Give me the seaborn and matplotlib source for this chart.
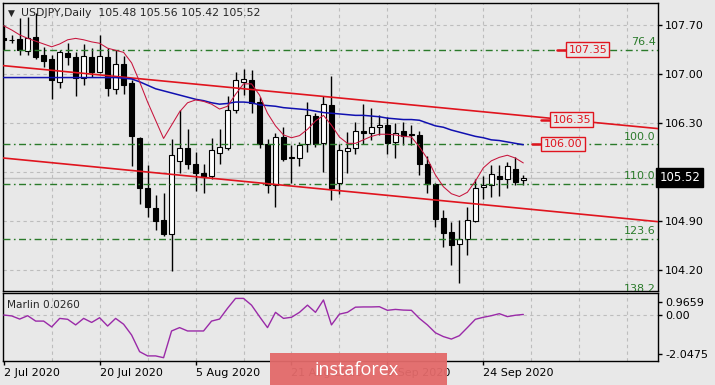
import numpy as np
import pandas as pd
import matplotlib
matplotlib.use("Agg")
import matplotlib.pyplot as plt
import matplotlib.transforms as mtransforms
from matplotlib.patches import Rectangle
import seaborn as sns

# daily bars, 2 Jul 2020 .. 1 Oct 2020
dates = pd.bdate_range("2020-07-02", periods=66)

opens = [107.52, 107.49, 107.50, 107.33, 107.53, 107.27, 107.21, 106.89, 107.30, 107.24,
         106.94, 107.24, 107.03, 107.24, 106.78, 107.14, 106.87, 106.08, 105.37, 105.08,
         104.91, 104.71, 105.76, 105.94, 105.72, 105.58, 105.54, 105.87, 105.94, 106.49,
         106.89, 106.91, 106.60, 106.00, 105.42, 106.10, 105.82, 105.80, 106.00, 106.40,
         106.02, 106.56, 105.45, 105.90, 105.95, 106.19, 106.16, 106.24, 106.27, 106.03,
         106.19, 106.15, 106.13, 105.72, 105.43, 104.95, 104.74, 104.57, 104.65, 104.90,
         105.38, 105.41, 105.54, 105.50, 105.65, 105.48]
highs = [107.70, 107.56, 107.80, 107.82, 107.87, 107.39, 107.27, 107.34, 107.44, 107.32,
         107.43, 107.37, 107.56, 107.37, 107.35, 107.26, 106.91, 106.10, 105.70, 105.27,
         105.30, 106.07, 106.48, 106.22, 105.89, 105.72, 106.08, 106.21, 106.69, 107.03,
         107.07, 107.06, 106.67, 106.07, 106.16, 106.24, 105.99, 106.03, 106.60, 106.45,
         106.69, 106.97, 106.00, 106.17, 106.32, 106.57, 106.52, 106.41, 106.39, 106.30,
         106.31, 106.27, 106.19, 105.83, 105.45, 105.06, 104.89, 104.91, 105.10, 105.50,
         105.54, 105.70, 105.70, 105.74, 105.82, 105.56]
lows = [107.35, 107.44, 107.27, 107.27, 107.21, 107.10, 106.65, 106.80, 107.13, 106.68,
        106.84, 106.96, 107.01, 106.69, 106.72, 106.71, 105.69, 105.14, 104.96, 104.77,
        104.69, 104.19, 105.59, 105.65, 105.33, 105.30, 105.50, 105.72, 105.91, 106.45,
        106.70, 106.45, 105.95, 105.30, 105.10, 105.76, 105.44, 105.69, 105.88, 105.96,
        105.60, 105.20, 105.29, 105.59, 105.86, 106.00, 106.06, 106.13, 105.86, 105.80,
        105.99, 105.99, 105.56, 105.30, 104.81, 104.53, 104.27, 104.01, 104.41, 104.88,
        105.21, 105.25, 105.26, 105.37, 105.41, 105.42]
closes = [107.49, 107.48, 107.34, 107.51, 107.24, 107.19, 106.92, 107.31, 107.25, 106.94,
          107.26, 107.03, 107.26, 106.80, 107.15, 106.84, 106.11, 105.37, 105.10, 104.90,
          104.71, 105.85, 105.95, 105.71, 105.59, 105.53, 105.92, 105.96, 106.49, 106.91,
          106.93, 106.59, 106.00, 105.41, 106.10, 105.79, 105.80, 105.99, 106.41, 106.00,
          106.57, 105.37, 105.91, 105.94, 106.19, 106.16, 106.24, 106.27, 106.02, 106.16,
          106.12, 106.13, 105.71, 105.43, 104.93, 104.73, 104.56, 104.64, 104.92, 105.37,
          105.41, 105.57, 105.50, 105.68, 105.46, 105.52]

ma_fast = [107.69, 107.63, 107.56, 107.51, 107.47, 107.43, 107.39, 107.43, 107.49, 107.51,
           107.49, 107.46, 107.44, 107.37, 107.34, 107.31, 107.16, 106.89, 106.60, 106.34,
           106.08, 106.27, 106.46, 106.59, 106.63, 106.61, 106.57, 106.50, 106.54, 106.71,
           106.86, 106.86, 106.70, 106.44, 106.26, 106.13, 106.09, 106.12, 106.21, 106.33,
           106.41, 106.27, 106.10, 106.01, 106.01, 106.06, 106.11, 106.14, 106.14, 106.13,
           106.11, 106.10, 105.96, 105.79, 105.56, 105.39, 105.29, 105.25, 105.31, 105.47,
           105.66, 105.76, 105.81, 105.84, 105.80, 105.73]
ma_slow = [106.95, 106.95, 106.95, 106.95, 106.95, 106.95, 106.95, 106.95, 106.95, 106.95,
           106.95, 106.95, 106.95, 106.95, 106.95, 106.94, 106.93, 106.89, 106.84, 106.79,
           106.76, 106.73, 106.70, 106.67, 106.64, 106.62, 106.59, 106.57, 106.58, 106.60,
           106.60, 106.59, 106.56, 106.55, 106.54, 106.52, 106.51, 106.50, 106.49, 106.47,
           106.45, 106.44, 106.43, 106.42, 106.41, 106.41, 106.40, 106.39, 106.37, 106.36,
           106.35, 106.35, 106.34, 106.30, 106.26, 106.24, 106.20, 106.17, 106.14, 106.11,
           106.09, 106.06, 106.05, 106.03, 106.01, 105.99]
marlin = [0.00, -0.04, -0.18, -0.03, -0.27, -0.27, -0.53, -0.15, -0.19, -0.44,
          -0.15, -0.33, -0.12, -0.49, -0.15, -0.41, -0.89, -1.63, -1.82, -1.82,
          -1.90, -0.71, -0.56, -0.71, -0.71, -0.71, -0.27, -0.18, 0.30, 0.74,
          0.74, 0.44, -0.07, -0.56, 0.12, -0.15, -0.10, 0.12, 0.44, 0.12,
          0.67, -0.44, 0.04, 0.12, 0.35, 0.36, 0.36, 0.37, 0.21, 0.25,
          0.22, 0.21, -0.15, -0.44, -0.79, -0.96, -1.07, -0.92, -0.56, -0.19,
          -0.10, -0.03, 0.06, -0.07, -0.01, 0.026]

fibo_levels = [107.35, 106.00, 105.43, 104.65, 103.82]
fibo_labels = ["76.4", "100.0", "110.0", "123.6", "138.2"]
chan_bars = [0, 81]
chan_upper = [107.12, 106.23]
chan_lower = [105.80, 104.90]
mark_prices = [107.35, 106.35, 106.00]
mark_bars = [70.5, 68.5, 67.4]
price_ticks = [107.70, 107.00, 106.30, 105.60, 104.90, 104.20]
osc_ticks = [0.578, 0.0, -1.733]
osc_labels = ["0.9659", "0.00", "-2.0475"]
last_price = 105.52
header = "USDJPY,Daily  105.48 105.56 105.42 105.52"

bg = "#e8e8e8"
grid_c = "#bdbdbd"
green = "#2a7a2a"
red = "#e0141e"

sns.set_theme(style="ticks")
plt.rcParams["font.family"] = ["DejaVu Sans"]
plt.rcParams["font.size"] = 8

df = pd.DataFrame({"date": dates, "open": opens, "high": highs, "low": lows,
                   "close": closes, "fast": ma_fast, "slow": ma_slow, "marlin": marlin})
df["bar"] = np.arange(len(df))

fig = plt.figure(figsize=(7.15, 3.85), dpi=100, facecolor=bg)
ax = fig.add_axes([0.0035, 0.2442, 0.9168, 0.7488], facecolor=bg)
ax2 = fig.add_axes([0.0035, 0.0623, 0.9168, 0.1758], facecolor=bg)

xmin, xmax = -0.15, 81.85
grid_bars = np.arange(6, 80, 6)

# grid
for g in grid_bars:
    ax.axvline(g, color=grid_c, lw=0.8, ls=(0, (3, 3)), zorder=0)
    ax2.axvline(g, color=grid_c, lw=0.8, ls=(0, (3, 3)), zorder=0)
for p in price_ticks:
    ax.axhline(p, color=grid_c, lw=0.8, ls=(0, (3, 3)), zorder=0)
ax2.axhline(0, color=grid_c, lw=0.8, ls=(0, (3, 3)), zorder=0)

# bid line
ax.axhline(last_price, color="#c2c2c2", lw=1, zorder=1)

# candles
up = df["close"] >= df["open"]
ax.vlines(df["bar"], df["low"], df["high"], color="black", lw=1, zorder=3)
body_lo = np.minimum(df["open"], df["close"])
body_h = np.maximum((df["close"] - df["open"]).abs(), 0.012)
ax.bar(df["bar"], body_h, bottom=body_lo, width=0.62,
       color=np.where(up, "white", "black"), edgecolor="black", lw=0.8, zorder=4)

# fibo levels
for lvl, lab in zip(fibo_levels, fibo_labels):
    ax.axhline(lvl, color=green, lw=1, ls=(0, (5, 2.5, 1.2, 2.5)), zorder=5)
    ax.text(81.55, lvl + 0.035, lab, color=green, ha="right", va="bottom",
            fontsize=8, zorder=6, clip_on=True)

# channel
ax.axline((chan_bars[0], chan_upper[0]), (chan_bars[1], chan_upper[1]), color=red, lw=1.2, zorder=5)
ax.axline((chan_bars[0], chan_lower[0]), (chan_bars[1], chan_lower[1]), color=red, lw=1.2, zorder=5)

# moving averages
sns.lineplot(x=df["bar"], y=df["slow"], ax=ax, color="#1010b0", lw=1.1, zorder=6)
sns.lineplot(x=df["bar"], y=df["fast"], ax=ax, color="#c8143c", lw=0.75, zorder=6)

# price marks
for pr, b in zip(mark_prices, mark_bars):
    ax.plot([b - 1.3, b], [pr, pr], color=red, lw=1.8, zorder=6)
    ax.text(b + 0.15, pr, f"{pr:.2f}", color=red, ha="left", va="center", fontsize=8,
            zorder=7, bbox=dict(boxstyle="square,pad=0.2", fc=bg, ec=red, lw=1))

ax.set_xlim(xmin, xmax)
ax.set_ylim(103.90, 108.02)
ax.set_xlabel("")
ax.set_ylabel("")
ax.yaxis.tick_right()
ax.set_yticks(price_ticks)
ax.set_yticklabels([f"{p:.2f}" for p in price_ticks])
ax.set_xticks([])
ax.tick_params(axis="y", direction="out", length=3, width=1, pad=2, labelsize=8, colors="black")

# last price box
trans = mtransforms.blended_transform_factory(ax.transAxes, ax.transData)
ax.text(1.002, last_price, f"{last_price:.2f}", transform=trans, color="white",
        ha="left", va="center", fontsize=8.5, clip_on=False, zorder=10,
        bbox=dict(boxstyle="square,pad=0.25", fc="black", ec="black"))

ax.text(0.008, 0.963, "\u25bc", transform=ax.transAxes, fontsize=6.5, va="center", ha="left")
ax.text(0.028, 0.963, header, transform=ax.transAxes, fontsize=7.8, va="center", ha="left")

# oscillator panel
sns.lineplot(x=df["bar"], y=df["marlin"], ax=ax2, color="#9a2aa8", lw=1, zorder=4)
ax2.set_xlim(xmin, xmax)
ax2.set_ylim(-2.0475, 0.9659)
ax2.set_xlabel("")
ax2.set_ylabel("")
ax2.yaxis.tick_right()
ax2.set_yticks(osc_ticks)
ax2.set_yticklabels(osc_labels)
tick_bars = df["bar"][::12]
ax2.set_xticks(tick_bars)
ax2.set_xticklabels([d.strftime("%-d %b %Y") for d in df["date"][::12]], ha="left")
ax2.tick_params(axis="both", direction="out", length=3, width=1, pad=2, labelsize=8, colors="black")
ax2.text(0.007, 0.83, f"Marlin {marlin[-1]:.4f}", transform=ax2.transAxes,
         fontsize=7.6, va="center", ha="left")

for a in (ax, ax2):
    for s in a.spines.values():
        s.set_color("black")
        s.set_linewidth(1)

# watermark
fig.add_artist(Rectangle((0.3776, 0.0), 0.2476, 0.0823, transform=fig.transFigure,
                         facecolor="#e36a6a", edgecolor="none", alpha=0.95, zorder=20))
fig.text(0.4993, 0.04, "instaforex", color="white", fontsize=13,
         family=["Open Sans", "DejaVu Sans"], ha="center", va="center", zorder=21)

fig.savefig("out.png", dpi=100, facecolor=bg)
